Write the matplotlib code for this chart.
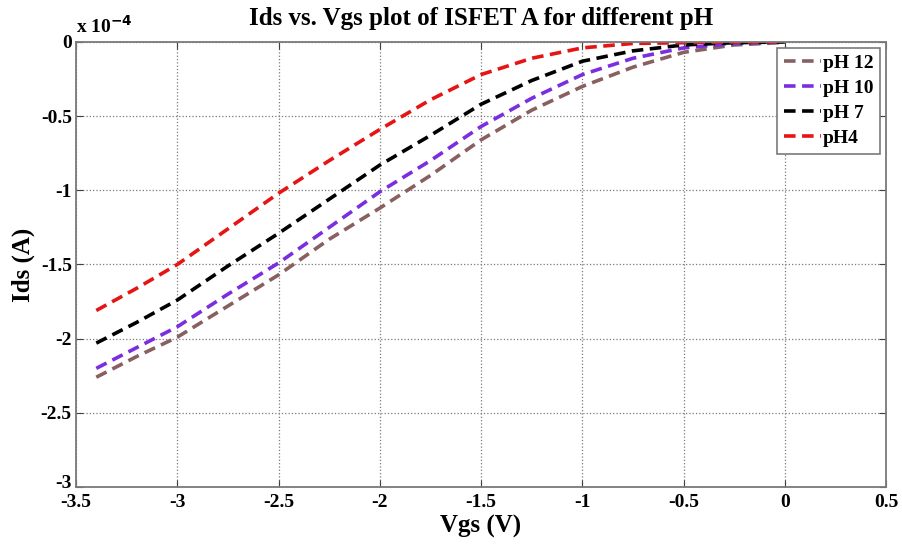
import numpy as np
import matplotlib.pyplot as plt
import matplotlib.transforms as mtransforms
from matplotlib.ticker import FuncFormatter

# 栅压 Vgs (V)
vgs = [-3.4, -3.2, -3.0, -2.75, -2.5, -2.25, -2.0, -1.75, -1.5, -1.25, -1.0, -0.75, -0.5, -0.25, 0.0]

# 漏电流 Ids，单位 1e-4 A
ids_ph12 = [-2.26, -2.12, -1.99, -1.78, -1.57, -1.33, -1.12, -0.90, -0.66, -0.46, -0.30, -0.17, -0.07, -0.02, -0.003]
ids_ph10 = [-2.20, -2.06, -1.92, -1.70, -1.49, -1.25, -1.01, -0.80, -0.57, -0.38, -0.22, -0.11, -0.04, -0.01, 0.0]
ids_ph7 = [-2.03, -1.89, -1.74, -1.51, -1.29, -1.06, -0.83, -0.63, -0.42, -0.26, -0.13, -0.06, -0.02, -0.005, 0.0]
ids_ph4 = [-1.81, -1.66, -1.50, -1.26, -1.02, -0.80, -0.59, -0.39, -0.22, -0.11, -0.04, -0.01, -0.005, 0.0, 0.0]

labels = ["pH 12", "pH 10", "pH 7", "pH4"]
colors = ["#87605f", "#7a2ee0", "#000000", "#e61515"]

plt.rcParams['font.family'] = ['Liberation Serif', 'DejaVu Serif']
plt.rcParams['font.weight'] = 'bold'

fig = plt.figure(figsize=(9.02, 5.45), dpi=100)
ax = fig.add_axes([0.0843, 0.1064, 0.898, 0.8166])

scale = 1e-4
for ys, lab, c in zip([ids_ph12, ids_ph10, ids_ph7, ids_ph4], labels, colors):
    ax.plot(vgs, np.array(ys) * scale, color=c, lw=2.6, ls=(0, (3.2, 1.8)), label=lab)

ax.set_xlim(-3.5, 0.5)
ax.set_ylim(-3 * scale, 0)
ax.set_xticks(np.arange(-3.5, 0.51, 0.5))
ax.set_yticks(np.arange(-3, 0.01, 0.5) * scale)
ax.xaxis.set_major_formatter(FuncFormatter(lambda v, p: f"{v:g}"))
ax.yaxis.set_major_formatter(FuncFormatter(lambda v, p: f"{round(v / scale, 2):g}"))
ax.tick_params(direction='in', top=True, right=True, length=5, labelsize=14, color='#404040')
ax.tick_params(axis='x', pad=5)
ax.tick_params(axis='y', pad=3)
for s in ax.spines.values():
    s.set_color('#7a7a7a')
    s.set_linewidth(1.3)
ax.grid(True, ls=':', color='#7a7a7a', lw=0.9)

# 底部 -3 标签稍微上移，避免和 -3.5 重叠
fig.canvas.draw()
lab0 = ax.get_yticklabels()[0]
lab0.set_transform(lab0.get_transform() + mtransforms.ScaledTranslation(0, 0.06, fig.dpi_scale_trans))

ax.text(0.0, 1.012, r"x 10$^{\mathbf{-4}}$", transform=ax.transAxes, fontsize=14,
        ha='left', va='bottom', fontweight='bold')
ax.set_title("Ids vs. Vgs plot of ISFET A for different pH", fontsize=18, fontweight='bold', pad=12)
ax.set_xlabel("Vgs (V)", fontsize=18, fontweight='bold', labelpad=3)
ax.set_ylabel("Ids (A)", fontsize=18, fontweight='bold', labelpad=4)

leg = ax.legend(loc='upper right', fontsize=14, handlelength=1.9, handletextpad=0.1,
                borderaxespad=0.3, fancybox=False, framealpha=1, borderpad=0.35, labelspacing=0.38)
leg.get_frame().set_edgecolor('#7a7a7a')
leg.get_frame().set_linewidth(1.2)

fig.savefig("out.png", dpi=100)
